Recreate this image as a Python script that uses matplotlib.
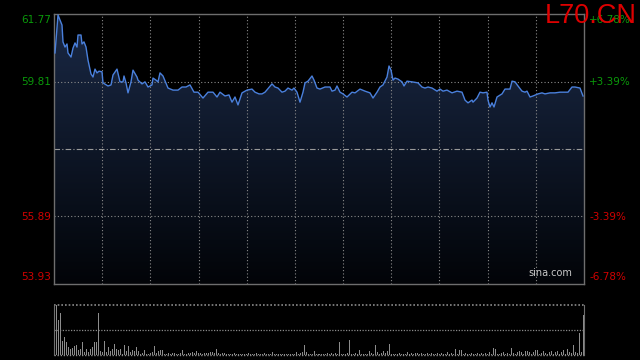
import numpy as np
import matplotlib
matplotlib.use("Agg")
import matplotlib.pyplot as plt
from matplotlib.colors import LinearSegmentedColormap
from matplotlib.transforms import blended_transform_factory

# ---------------- data ----------------
symbol = "L70.CN"
prev_close = 57.85
price_ticks = [61.77, 59.81, 55.89, 53.93]

# time steps (session spans 0..530) and prices
t = [1, 4, 8, 9, 11, 13, 14, 17, 19, 21, 23, 24, 27, 28, 30, 32, 34, 37, 39, 41,
     43, 45, 48, 49, 54, 57, 59, 63, 66, 69, 70, 72, 74, 77, 79, 83, 84, 88, 91, 94,
     98, 99, 102, 104, 106, 109, 114, 119, 124, 128, 132, 136, 140, 144, 149, 154, 159, 163, 166, 171,
     175, 178, 181, 184, 188, 193, 198, 201, 205, 208, 211, 218, 221, 224, 228, 231, 234, 238, 240, 243,
     246, 249, 251, 254, 258, 260, 263, 266, 271, 276, 278, 281, 283, 286, 289, 293, 298, 301, 306, 311,
     316, 319, 323, 326, 329, 333, 335, 337, 339, 341, 344, 348, 350, 353, 358, 364, 368, 371, 374, 378,
     383, 386, 389, 393, 398, 403, 408, 411, 414, 418, 419, 423, 426, 429, 433, 434, 436, 438, 440, 443,
     448, 451, 456, 458, 461, 464, 468, 471, 473, 476, 479, 484, 488, 491, 496, 501, 506, 509, 514, 518,
     521, 526, 529]
price = [60.64, 61.74, 61.45, 60.96, 60.81, 60.90, 60.64, 60.52, 60.78, 60.93, 60.81, 61.16, 61.16, 60.90, 60.96, 60.81, 60.43, 60.03, 59.94, 60.17,
         60.06, 60.11, 60.09, 59.77, 59.68, 59.71, 60.00, 60.17, 59.80, 59.80, 59.97, 59.77, 59.48, 59.80, 60.14, 59.94, 59.85, 59.74, 59.80, 59.65,
         59.71, 59.91, 59.85, 59.80, 60.06, 59.97, 59.62, 59.56, 59.56, 59.65, 59.65, 59.71, 59.50, 59.50, 59.33, 59.50, 59.50, 59.36, 59.50, 59.39,
         59.42, 59.21, 59.36, 59.13, 59.48, 59.56, 59.59, 59.50, 59.45, 59.45, 59.50, 59.74, 59.65, 59.62, 59.50, 59.53, 59.62, 59.56, 59.62, 59.50,
         59.21, 59.50, 59.77, 59.82, 59.97, 59.85, 59.62, 59.59, 59.65, 59.65, 59.53, 59.56, 59.68, 59.50, 59.45, 59.36, 59.50, 59.48, 59.59, 59.53,
         59.48, 59.33, 59.50, 59.65, 59.71, 59.94, 60.26, 60.14, 59.85, 59.91, 59.88, 59.80, 59.68, 59.82, 59.80, 59.77, 59.65, 59.62, 59.65, 59.62,
         59.53, 59.59, 59.53, 59.56, 59.48, 59.53, 59.50, 59.27, 59.19, 59.27, 59.21, 59.33, 59.50, 59.48, 59.50, 59.27, 59.07, 59.19, 59.07, 59.36,
         59.45, 59.59, 59.59, 59.82, 59.80, 59.68, 59.53, 59.50, 59.53, 59.36, 59.39, 59.45, 59.48, 59.45, 59.48, 59.48, 59.50, 59.50, 59.50, 59.65,
         59.65, 59.62, 59.39]

volume = [29, 49, 34, 41, 14, 18, 13, 8, 6, 7, 9, 10, 5, 6, 13, 3, 6, 3, 6, 8,
          13, 13, 41, 4, 3, 14, 3, 8, 4, 6, 11, 6, 5, 6, 1, 10, 4, 9, 3, 5,
          4, 8, 4, 1, 2, 5, 1, 1, 2, 3, 9, 2, 4, 5, 5, 1, 1, 2, 1, 2,
          2, 1, 1, 2, 5, 1, 1, 2, 2, 3, 2, 4, 2, 2, 1, 2, 2, 2, 3, 3,
          2, 6, 2, 1, 2, 2, 1, 1, 1, 1, 2, 1, 1, 1, 1, 1, 1, 2, 1, 1,
          1, 2, 1, 1, 1, 2, 1, 1, 1, 3, 1, 1, 1, 1, 1, 1, 1, 1, 1, 1,
          1, 3, 1, 2, 3, 10, 3, 1, 1, 1, 4, 1, 1, 1, 1, 1, 1, 2, 1, 2,
          1, 2, 1, 13, 1, 1, 1, 2, 15, 1, 1, 2, 1, 5, 1, 1, 1, 1, 4, 2,
          1, 10, 3, 1, 2, 4, 2, 4, 11, 1, 1, 1, 1, 2, 1, 1, 1, 3, 1, 2,
          1, 2, 2, 1, 2, 1, 1, 2, 1, 2, 1, 1, 2, 1, 2, 1, 1, 3, 1, 2,
          1, 6, 1, 5, 5, 1, 2, 1, 1, 2, 1, 1, 2, 1, 2, 1, 2, 1, 3, 1,
          7, 6, 1, 1, 2, 3, 1, 2, 1, 7, 2, 1, 3, 4, 3, 1, 4, 4, 3, 1,
          3, 5, 5, 1, 2, 4, 2, 1, 3, 4, 1, 3, 4, 1, 3, 5, 1, 6, 3, 2,
          10, 3, 2, 22, 3, 39]

T_END = 530
# ---------------- figure ----------------
BG = "#000000"
FRAME = "#6e6e6e"
GRID = "#8a8a8a"
UP = "#0a9a0a"
DOWN = "#d00000"
LINE = "#4a80dc"

fig = plt.figure(figsize=(6.4, 3.6), dpi=100, facecolor=BG)
W, H = 640, 360
ax = fig.add_axes([54 / W, 1 - 284 / H, 530 / W, 270 / H], facecolor=BG)
axv = fig.add_axes([54 / W, 1 - 355 / H, 530 / W, 50 / H], facecolor=BG)

ymin, ymax = price_ticks[-1], price_ticks[0]
ax.set_xlim(0, T_END)
ax.set_ylim(ymin, ymax)

# gradient fill under the line
tx = np.array([0] + t + [T_END])
py = np.array([price[0]] + price + [price[-1]])
poly = ax.fill_between(tx, py, ymin, color="none", lw=0)
cmap = LinearSegmentedColormap.from_list("g", ["#020408", "#1a2946"])
grad = np.linspace(0, 1, 256).reshape(-1, 1)
im = ax.imshow(grad, cmap=cmap, aspect="auto", origin="lower",
               extent=[0, T_END, ymin, ymax], zorder=1)
im.set_clip_path(poly.get_paths()[0], transform=ax.transData)

ax.plot(t, price, color=LINE, lw=1.0, zorder=3)

# grid
for k in range(1, 11):
    ax.axvline(T_END * k / 11, color=GRID, lw=0.8, ls=(0, (1, 2)), zorder=2)
for p in price_ticks[1:-1]:
    ax.axhline(p, color=GRID, lw=0.8, ls=(0, (1, 2)), zorder=2)
ax.axhline(prev_close, color="#9a9a9a", lw=0.8, ls=(0, (5, 2, 1, 2)), zorder=2)

for s in ax.spines.values():
    s.set_color(FRAME)
    s.set_linewidth(1.0)
ax.set_xticks([])
ax.set_yticks([])

# price / percent labels
trL = blended_transform_factory(fig.transFigure, ax.transData)
offsets = [-0.17, 0.0, 0.0, 0.19]
for p, off in zip(price_ticks, offsets):
    col = UP if p > prev_close else DOWN
    pct = (p - prev_close) / prev_close * 100
    ax.text(51 / W, p + off, f"{p:.2f}", transform=trL, ha="right", va="center",
            color=col, fontsize=7.5, family="DejaVu Sans")
    ax.text(589 / W, p + off, f"{pct:+.2f}%", transform=trL, ha="left", va="center",
            color=col, fontsize=7.5, family="DejaVu Sans")

fig.text(637 / W, 1 - 16 / H, symbol, ha="right", va="center", color="#dd0000",
         fontsize=19.5, family="Liberation Sans")
ax.text(0.977, 0.022, "sina.com", transform=ax.transAxes, ha="right", va="bottom",
        color="#c8c8c8", fontsize=7, family="DejaVu Sans")

# volume panel
n = len(volume)
axv.set_xlim(-0.5, n - 0.5)
vmax = max(volume)
axv.set_ylim(0, vmax)
axv.bar(np.arange(n), volume, width=0.5, color="#8c8c8c", lw=0)
axv.axhline(vmax * 0.5, color=GRID, lw=0.9, ls=(0, (1, 1.2)))
axv.axhline(vmax, color=GRID, lw=1.2, ls=(0, (1, 1.2)), clip_on=False)
axv.axhline(0, color=GRID, lw=1.0, ls=(0, (1, 1.2)), clip_on=False)
for side in ["top", "bottom"]:
    axv.spines[side].set_visible(False)
for side in ["left", "right"]:
    axv.spines[side].set_color(FRAME)
axv.set_xticks([])
axv.set_yticks([])

fig.savefig("out.png", dpi=100, facecolor=BG)
